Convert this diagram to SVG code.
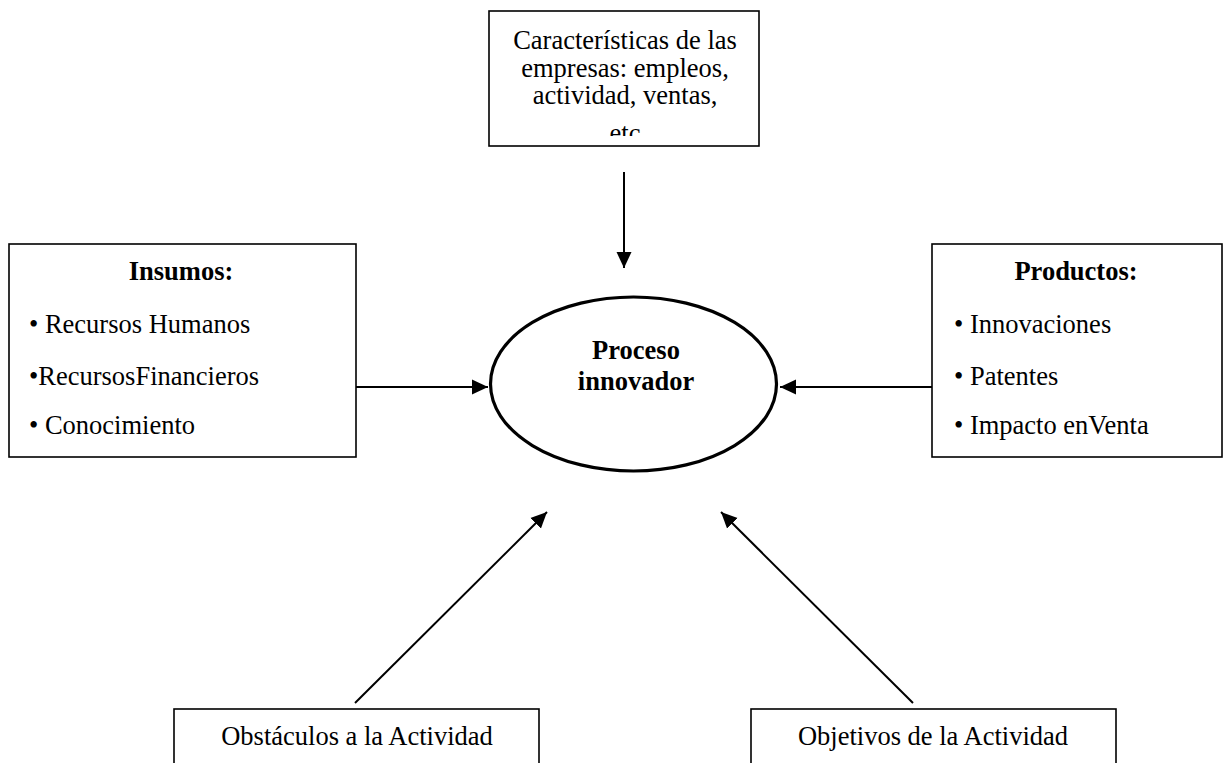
<svg xmlns="http://www.w3.org/2000/svg" width="1226" height="763" viewBox="0 0 1226 763">
<style>
.box{fill:#fff;stroke:#000;stroke-width:1.6}
.t{font-family:"Liberation Serif","Times New Roman",serif;font-size:26.5px;fill:#000}
.b{font-weight:bold}
.c{text-anchor:middle}
.conn{stroke:#000;stroke-width:2;fill:none}
</style>
<defs>
<marker id="arr" viewBox="0 0 16 16" refX="16" refY="8" markerWidth="16" markerHeight="16" markerUnits="userSpaceOnUse" orient="auto">
<path d="M0,0.5 L16,8 L0,15.5 z" fill="#000"/>
</marker>
<clipPath id="topclip"><rect x="490" y="12" width="268" height="124"/></clipPath>
</defs>
<rect width="1226" height="763" fill="#fff"/>
<g id="caracteristicas">
<rect class="box" x="489" y="11" width="270" height="135"/>
<g clip-path="url(#topclip)">
<text class="t c" x="625" y="49">Características de las</text>
<text class="t c" x="625" y="76.5">empresas: empleos,</text>
<text class="t c" x="625" y="103.5">actividad, ventas,</text>
<text class="t c" x="625" y="142">etc</text>
</g>
</g>
<g id="insumos">
<rect class="box" x="9" y="244" width="347" height="213"/>
<text class="t b c" x="181" y="280">Insumos:</text>
<text class="t" x="29" y="333">• Recursos Humanos</text>
<text class="t" x="29" y="385">•RecursosFinancieros</text>
<text class="t" x="29" y="434">• Conocimiento</text>
</g>
<g id="productos">
<rect class="box" x="932" y="244" width="290" height="213"/>
<text class="t b c" x="1076" y="280">Productos:</text>
<text class="t" x="954" y="333">• Innovaciones</text>
<text class="t" x="954" y="385">• Patentes</text>
<text class="t" x="954" y="434">• Impacto enVenta</text>
</g>
<g id="proceso">
<ellipse cx="633.5" cy="384" rx="143" ry="87" fill="#fff" stroke="#000" stroke-width="3.2"/>
<text class="t b c" x="636" y="359">Proceso</text>
<text class="t b c" x="636" y="390">innovador</text>
</g>
<g id="obstaculos">
<rect class="box" x="174" y="709" width="365" height="70"/>
<text class="t c" x="357" y="745">Obstáculos a la Actividad</text>
</g>
<g id="objetivos">
<rect class="box" x="751" y="709" width="365" height="70"/>
<text class="t c" x="933" y="745">Objetivos de la Actividad</text>
</g>
<g id="connectors">
<line class="conn" x1="624" y1="172" x2="624" y2="268" marker-end="url(#arr)"/>
<line class="conn" x1="356" y1="387" x2="488" y2="387" marker-end="url(#arr)"/>
<line class="conn" x1="932" y1="387" x2="780" y2="387" marker-end="url(#arr)"/>
<line class="conn" x1="355" y1="703" x2="547" y2="512" marker-end="url(#arr)"/>
<line class="conn" x1="913" y1="703" x2="721" y2="512" marker-end="url(#arr)"/>
</g>
</svg>
